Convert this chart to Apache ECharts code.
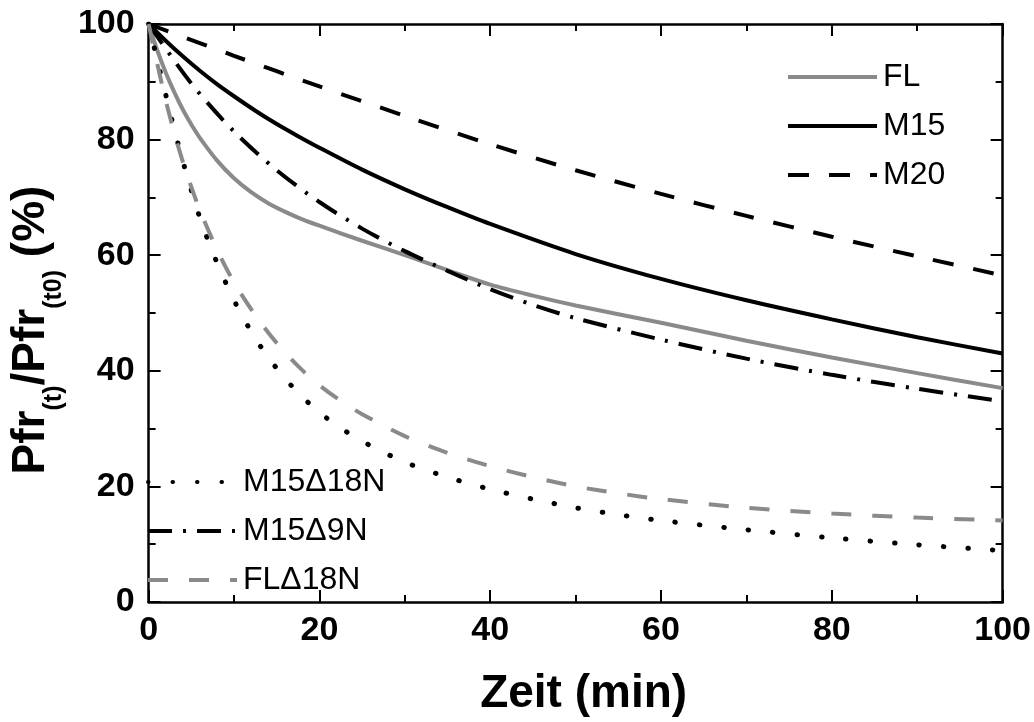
<!DOCTYPE html>
<html>
<head>
<meta charset="utf-8">
<script src="https://cdn.jsdelivr.net/npm/echarts@6/dist/echarts.min.js"></script>
<style>
  html, body { margin: 0; padding: 0; background: #fff; }
  #chart { width: 1034px; height: 722px; }
</style>
</head>
<body>
<div id="chart"></div>
<script>
// Time axis (min) and relative Pfr content (%) for each sample
const flX  = [0, 1, 2, 3, 4, 5, 6, 8, 10, 12, 14, 16, 18, 20, 25, 30, 35, 40, 45, 50, 60, 70, 80, 90, 100];
const flY  = [100, 95.5, 91.6, 88.2, 85.2, 82.6, 80.3, 76.4, 73.3, 70.9, 69.0, 67.5, 66.2, 65.1, 62.5, 60.0, 57.4, 54.9, 53.0, 51.3, 48.3, 45.2, 42.3, 39.6, 37.0];

const m15X = [0, 2, 4, 6, 8, 10, 12.5, 15, 17.5, 20, 25, 30, 35, 40, 50, 60, 70, 80, 90, 100];
const m15Y = [100, 97.1, 94.4, 91.9, 89.6, 87.5, 85.0, 82.7, 80.6, 78.6, 74.8, 71.4, 68.3, 65.4, 60.2, 55.9, 52.2, 48.9, 45.8, 43.0];

const m20X = [0, 10, 20, 30, 40, 50, 60, 70, 80, 90, 100];
const m20Y = [100, 94.5, 89.2, 84.1, 79.2, 74.7, 70.6, 66.8, 63.2, 59.8, 56.5];

const m15d18X = [0, 1, 2, 3, 4, 5, 6, 7.5, 10, 12.5, 15, 17.5, 20, 22.5, 25, 30, 35, 40, 45, 50, 55, 60, 70, 80, 90, 100];
const m15d18Y = [100, 93.8, 87.8, 81.8, 76.3, 71.2, 66.5, 60.5, 52.2, 45.6, 40.4, 36.2, 32.8, 30.1, 27.8, 24.2, 21.6, 19.5, 17.8, 16.3, 15.1, 14.1, 12.5, 11.1, 9.9, 8.9];

const m15d9X = [0, 5, 10, 15, 20, 25, 30, 35, 40, 45, 50, 60, 70, 80, 90, 100];
const m15d9Y = [100, 89.7, 81.4, 74.7, 69.2, 64.6, 60.7, 57.3, 54.1, 51.4, 49.1, 45.4, 42.1, 39.3, 36.9, 34.7];

const fld18X = [0, 1, 2, 3, 4, 5, 6, 8, 10, 12.5, 15, 17.5, 20, 22.5, 25, 30, 35, 40, 45, 50, 55, 60, 70, 80, 90, 100];
const fld18Y = [100, 93.2, 86.8, 81.2, 76.2, 71.8, 67.8, 61.0, 55.3, 49.6, 44.8, 40.8, 37.5, 34.8, 32.5, 28.7, 25.8, 23.5, 21.6, 20.0, 18.8, 17.8, 16.3, 15.3, 14.6, 14.1];

const xTicks = { min: 0, max: 100, step: 20 };
const yTicks = { min: 0, max: 100, step: 20 };

const FONT = '"Liberation Sans", Arial, Helvetica, sans-serif';
const GREY = '#8a8a8a';

function pairs(xs, ys) { return xs.map((x, i) => [x, ys[i]]); }

function lineSeries(name, xs, ys, color, type, cap, width) {
  return {
    name: name,
    type: 'line',
    data: pairs(xs, ys),
    smooth: 0.3,
    symbol: 'none',
    silent: true,
    lineStyle: { color: color, width: width || 4, type: type, cap: cap || 'butt' },
    itemStyle: { color: color },
    z: 3
  };
}

const tickStyle = { color: '#000', width: 2 };

function xAxisDef(pos, withLabels) {
  return {
    type: 'value', position: pos, min: xTicks.min, max: xTicks.max, interval: xTicks.step,
    axisLine: { show: true, onZero: false, lineStyle: { color: '#000', width: 2.5 } },
    axisTick: { show: true, inside: true, length: 12, lineStyle: tickStyle },
    minorTick: { show: true, splitNumber: 2, length: 7, lineStyle: tickStyle },
    splitLine: { show: false },
    axisLabel: { show: withLabels, fontSize: 34, fontWeight: 'bold', color: '#000', fontFamily: FONT, margin: 12 },
    name: withLabels ? 'Zeit (min)' : '',
    nameLocation: 'middle',
    nameGap: 69,
    nameTextStyle: { fontSize: 46, fontWeight: 'bold', color: '#000', fontFamily: FONT, padding: [0, 0, 0, 16] }
  };
}

function yAxisDef(pos, withLabels) {
  return {
    type: 'value', position: pos, min: yTicks.min, max: yTicks.max, interval: yTicks.step,
    axisLine: { show: true, onZero: false, lineStyle: { color: '#000', width: 2.5 } },
    axisTick: { show: true, inside: true, length: 12, lineStyle: tickStyle },
    minorTick: { show: true, splitNumber: 2, length: 7, lineStyle: tickStyle },
    splitLine: { show: false },
    axisLabel: { show: withLabels, fontSize: 34, fontWeight: 'bold', color: '#000', fontFamily: FONT, margin: 14 },
    name: withLabels ? '{b|Pfr}{s|(t)}{b|/Pfr}{s|(t0)}{b| (%)}' : '',
    nameLocation: 'middle',
    nameRotate: 90,
    nameGap: 74,
    nameTextStyle: {
      color: '#000', fontFamily: FONT, fontWeight: 'bold', fontSize: 46,
      padding: [0, 34, 0, 0],
      rich: {
        b: { fontSize: 46, fontWeight: 'bold', fontFamily: FONT, color: '#000', verticalAlign: 'top' },
        s: { fontSize: 25, fontWeight: 'bold', fontFamily: FONT, color: '#000', verticalAlign: 'bottom', padding: [34, 0, 0, 0] }
      }
    }
  };
}

const legendBase = {
  orient: 'vertical', padding: 0,
  itemWidth: 89, itemHeight: 14, itemGap: 17,
  textStyle: { fontSize: 32, color: '#000', fontFamily: FONT, padding: [0, 0, 0, 1] },
  lineStyle: { width: 4 },
  itemStyle: { opacity: 0 },
  selectedMode: false
};

const chart = echarts.init(document.getElementById('chart'), null, { renderer: 'canvas' });
chart.setOption({
  backgroundColor: '#fff',
  animation: false,
  grid: { left: 143, top: 24, width: 861, height: 584, containLabel: false },
  xAxis: [xAxisDef('bottom', true), xAxisDef('top', false)],
  yAxis: [yAxisDef('left', true), yAxisDef('right', false)],
  legend: [
    Object.assign({}, legendBase, { data: ['FL', 'M15', 'M20'], left: 786, top: 61 }),
    Object.assign({}, legendBase, { data: ['M15\u039418N', 'M15\u03949N', 'FL\u039418N'], left: 146, top: 466 })
  ],
  series: [
    lineSeries('FL', flX, flY, GREY, 'solid'),
    lineSeries('M15', m15X, m15Y, '#000', 'solid'),
    lineSeries('M20', m20X, m20Y, '#000', [21, 20]),
    // round caps turn the very short dashes into dots
    lineSeries('M15\u039418N', m15d18X, m15d18Y, '#000', [0.5, 24], 'round', 5),
    lineSeries('M15\u03949N', m15d9X, m15d9Y, '#000', [24, 11, 3, 11]),
    lineSeries('FL\u039418N', fld18X, fld18Y, GREY, [20, 21])
  ]
});
</script>
</body>
</html>
